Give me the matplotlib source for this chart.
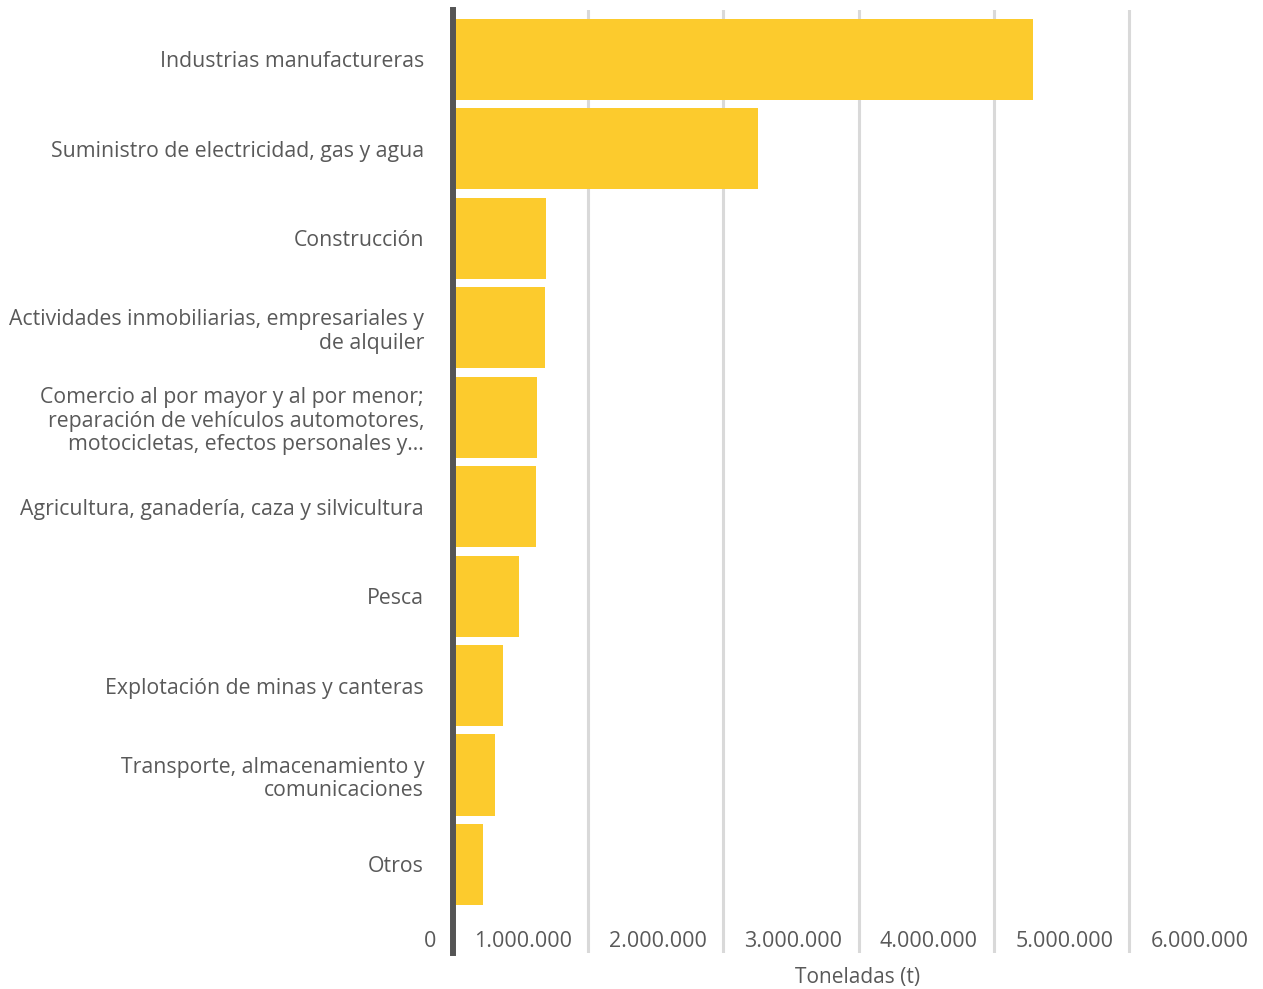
import matplotlib
matplotlib.use("Agg")
import matplotlib.pyplot as plt
from matplotlib.transforms import ScaledTranslation

plt.rcParams['font.family'] = ['Open Sans', 'DejaVu Sans']

# Toneladas por actividad económica
categorias = [
    'Industrias manufactureras',
    'Suministro de electricidad, gas y agua',
    'Construcción',
    'Actividades inmobiliarias, empresariales y\nde alquiler',
    'Comercio al por mayor y al por menor;\nreparación de vehículos automotores,\nmotocicletas, efectos personales y...',
    'Agricultura, ganadería, caza y silvicultura',
    'Pesca',
    'Explotación de minas y canteras',
    'Transporte, almacenamiento y\ncomunicaciones',
    'Otros',
]
toneladas = [4290000, 2258000, 691000, 684000, 625000, 617000, 491000, 373000, 314000, 225000]
ticks = [0, 1000000, 2000000, 3000000, 4000000, 5000000, 6000000]
tick_labels = ['0', '1.000.000', '2.000.000', '3.000.000', '4.000.000', '5.000.000', '6.000.000']

texto = '#595959'
amarillo = '#FCCB2D'

W, H = 1263, 989
fig = plt.figure(figsize=(W / 100, H / 100), dpi=100)
ax = fig.add_axes([452.5 / W, 1 - 953 / H, 812 / W, 943 / H])

pos = list(range(len(categorias)))
ax.barh(pos, toneladas, height=0.906, color=amarillo, zorder=2)

ax.set_xlim(0, 6000000)
ax.set_ylim(9.99, -0.553)

ax.set_xticks(ticks)
ax.set_xticklabels(tick_labels)
ax.set_yticks(pos)
ax.set_yticklabels(categorias, linespacing=1.17)

ax.xaxis.grid(True, color='#d9d9d9', linewidth=2.2, zorder=0)
ax.set_axisbelow(True)

for s in ['top', 'right', 'bottom']:
    ax.spines[s].set_visible(False)
ax.spines['left'].set_color('#555555')
ax.spines['left'].set_linewidth(4.3)
ax.spines['left'].set_zorder(3)

ax.tick_params(axis='y', length=0, pad=20.5, labelsize=15.3, labelcolor=texto)
ax.tick_params(axis='x', length=0, pad=-8.5, labelsize=15.5, labelcolor=texto)

# etiquetas del eje x alineadas a la derecha de cada línea guía
desplaz = ScaledTranslation(-0.16, 0, fig.dpi_scale_trans)
for lab in ax.get_xticklabels():
    lab.set_horizontalalignment('right')
    lab.set_verticalalignment('center')
    lab.set_transform(lab.get_transform() + desplaz)

fig.text(858 / W, 1 - 978 / H, 'Toneladas (t)', ha='center', va='center',
         fontsize=15, color=texto)

fig.savefig('out.png', dpi=100)
